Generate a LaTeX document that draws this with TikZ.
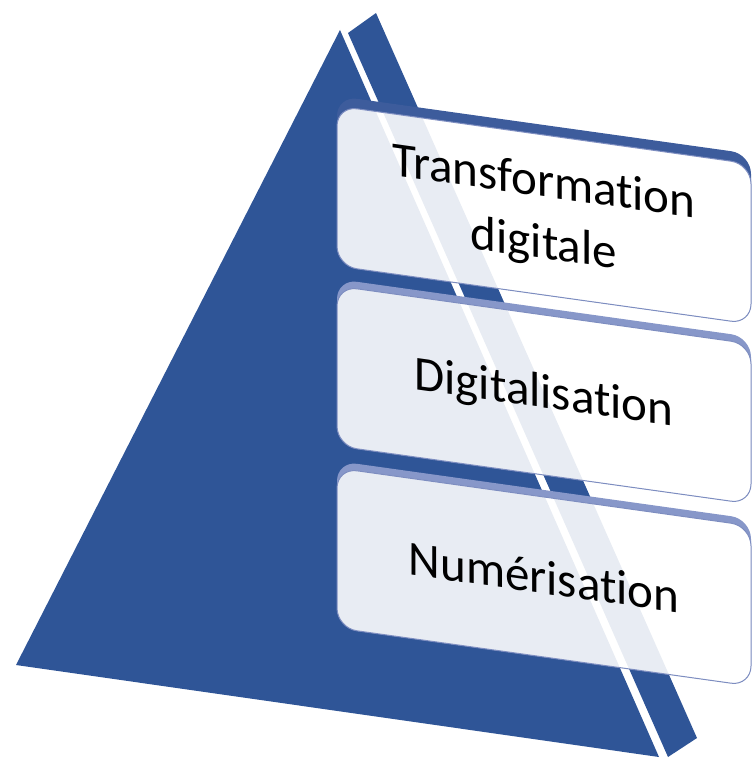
\documentclass[tikz,border=0pt]{standalone}
\usepackage{fontspec}
\setmainfont{Carlito}[Ligatures=NoCommon]
\definecolor{pyrblue}{HTML}{2F5597}
\definecolor{bandlight}{HTML}{8797C9}
\definecolor{banddark}{HTML}{3D5C9C}
\definecolor{boxedge}{HTML}{7D8DC0}
\begin{document}
\begin{tikzpicture}[x=1pt,y=-1pt,
  face/.style={fill=pyrblue},
  levelbox/.style={draw=boxedge, line width=1pt, fill=white, fill opacity=0.89,
    text opacity=1, rounded corners=20pt, minimum width=414pt, minimum height=160pt,
    inner sep=0pt, align=center, font=\fontsize{49}{62}\selectfont, text=black,
    transform shape},
  bandfill/.style={even odd rule, rounded corners=20pt}
]
\useasboundingbox (0,0) rectangle (753,765);
% pyramid faces
\coordinate (lA) at (340,30);
\coordinate (lB) at (16,665);
\coordinate (lC) at (659,757);
\coordinate (rA) at (348,33);
\coordinate (rB) at (376,13);
\coordinate (rC) at (697,738);
\coordinate (rD) at (668,757);
\fill[face] (lA) -- (lB) -- (lC) -- cycle;
\fill[face] (rA) -- (rB) -- (rC) -- (rD) -- cycle;
% level 1
\begin{scope}[shift={(544,215)}, yslant=-0.14]
  \fill[banddark, bandfill] (-207,-90) rectangle (207,80) (-207,-80) rectangle (207,80);
  \node[levelbox] (b1) at (0,0) {Transformation\\digitale};
\end{scope}
% level 2
\begin{scope}[shift={(544,395)}, yslant=-0.14]
  \fill[bandlight, bandfill] (-207,-87) rectangle (207,80) (-207,-80) rectangle (207,80);
  \node[levelbox] (b2) at (0,0) {Digitalisation};
\end{scope}
% level 3
\begin{scope}[shift={(544,577)}, yslant=-0.14]
  \fill[bandlight, bandfill] (-207,-87) rectangle (207,80) (-207,-80) rectangle (207,80);
  \node[levelbox] (b3) at (0,0) {Numérisation};
\end{scope}
\end{tikzpicture}
\end{document}
